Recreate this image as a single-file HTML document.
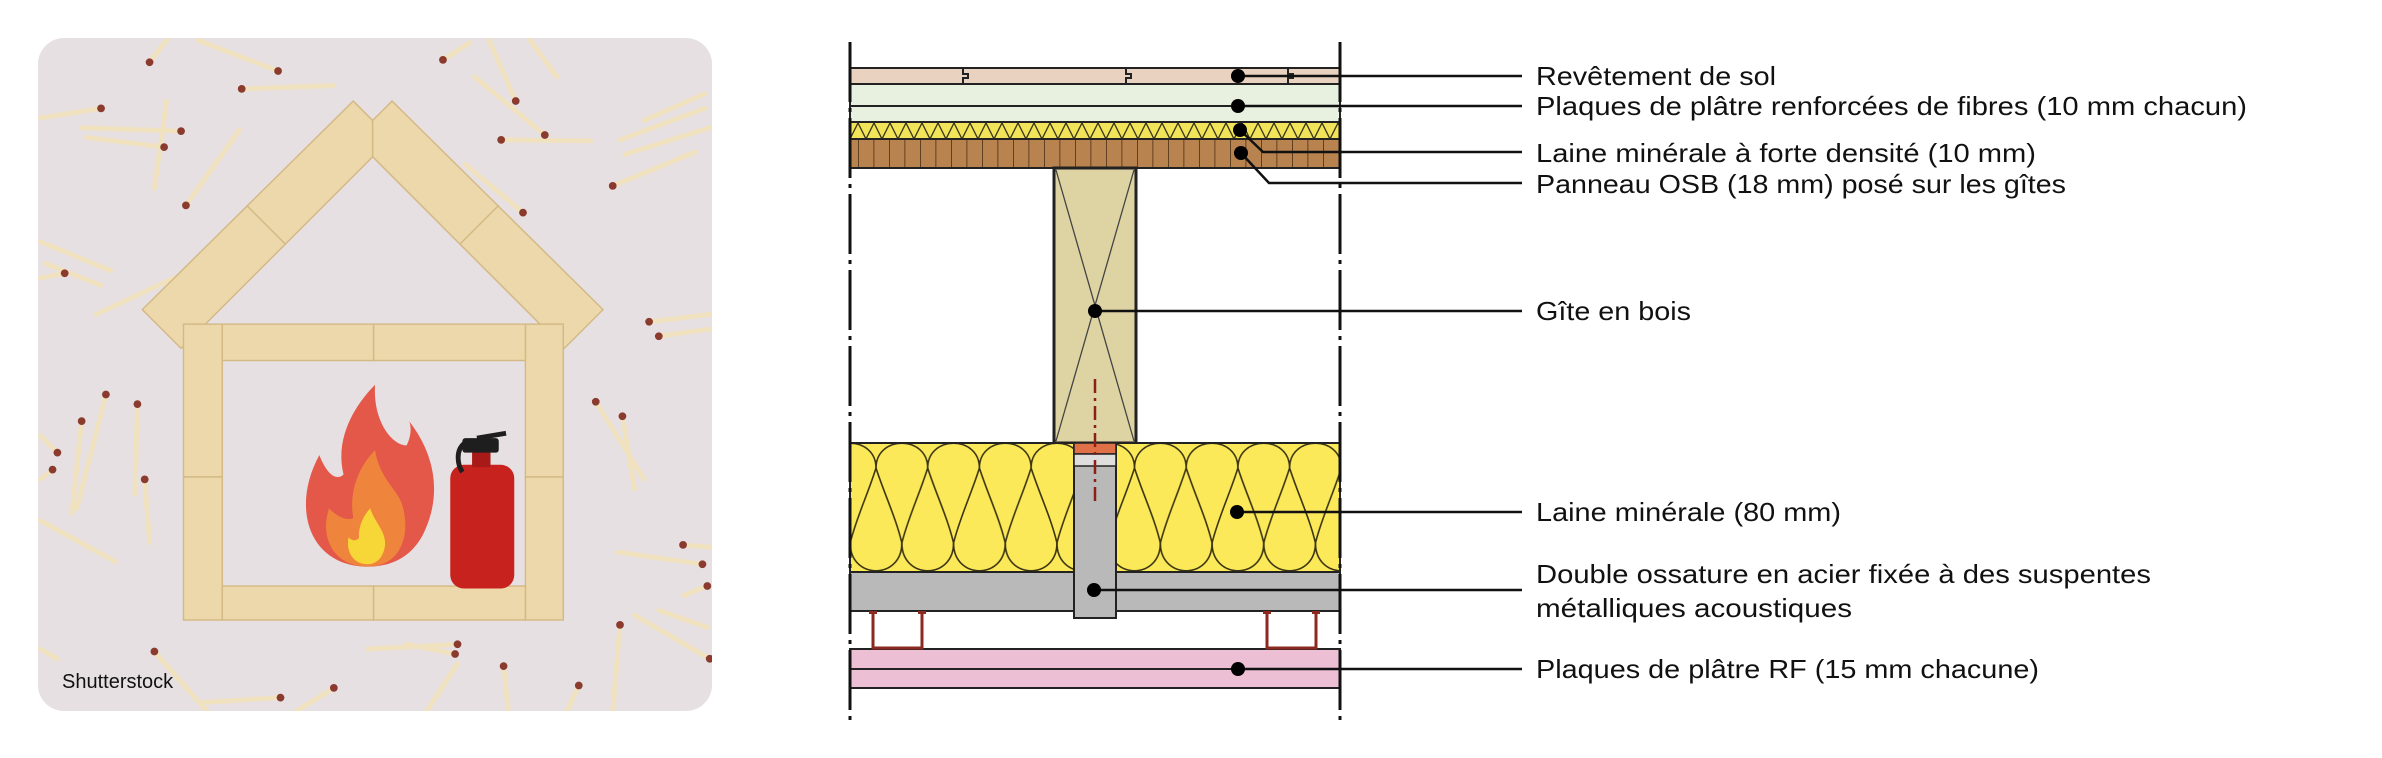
<!DOCTYPE html>
<html><head><meta charset="utf-8"><style>
html,body{margin:0;padding:0;background:#fff;}
svg{display:block;}
text{font-family:"Liberation Sans",sans-serif;}
</style></head><body>
<svg width="2382" height="758" viewBox="0 0 2382 758" xmlns="http://www.w3.org/2000/svg">
<defs>
<clipPath id="ph"><rect x="38" y="38" width="674" height="673" rx="26"/></clipPath>
<pattern id="ins" patternUnits="userSpaceOnUse" x="876" y="443" width="51.7" height="129">
<g fill="none" stroke="#3a3410" stroke-width="1.6">
<path d="M0,25 C0,-8 51.7,-8 51.7,25"/>
<path d="M-25.85,100 C-25.85,137 25.85,137 25.85,100"/>
<path d="M25.85,100 C25.85,137 77.55,137 77.55,100"/>
<path d="M0,25 C8,50 20,75 25.85,100 M51.7,25 C44,50 32,75 25.85,100 M0,25 C-8,50 -20,75 -25.85,100 M51.7,25 C60,50 72,75 77.55,100"/>
</g></pattern>
<pattern id="zig" patternUnits="userSpaceOnUse" x="850" y="122" width="16" height="17">
<path d="M0,17 L8,1 L16,17" fill="none" stroke="#3a3410" stroke-width="1.3"/>
</pattern>
<pattern id="osb" patternUnits="userSpaceOnUse" x="858" y="139" width="15.5" height="29">
<line x1="0" y1="0" x2="0" y2="29" stroke="#4a2e14" stroke-width="1.6"/>
</pattern>
</defs>

<!-- PHOTO -->
<g clip-path="url(#ph)">
<rect x="38" y="38" width="674" height="673" fill="#e7e0e3"/>
<g transform="translate(38,38) scale(0.485) translate(-80,-80)">
<g stroke="#f1e2bf" stroke-width="10" stroke-linecap="round">
<line x1="310" y1="130" x2="345" y2="85"/><line x1="575" y1="148" x2="410" y2="85"/>
<line x1="500" y1="185" x2="690" y2="178"/><line x1="210" y1="225" x2="85" y2="245"/>
<line x1="375" y1="272" x2="170" y2="265"/><line x1="345" y1="210" x2="320" y2="390"/>
<line x1="340" y1="305" x2="180" y2="285"/><line x1="385" y1="425" x2="495" y2="270"/>
<line x1="915" y1="125" x2="970" y2="90"/><line x1="1065" y1="210" x2="1010" y2="85"/>
<line x1="1150" y1="160" x2="1095" y2="85"/><line x1="1125" y1="280" x2="980" y2="160"/>
<line x1="1035" y1="290" x2="1220" y2="292"/><line x1="1455" y1="195" x2="1330" y2="250"/>
<line x1="1455" y1="225" x2="1280" y2="290"/><line x1="1465" y1="265" x2="1290" y2="320"/>
<line x1="1265" y1="385" x2="1435" y2="315"/><line x1="1080" y1="440" x2="960" y2="340"/>
<line x1="85" y1="500" x2="230" y2="560"/><line x1="95" y1="545" x2="210" y2="590"/>
<line x1="135" y1="565" x2="85" y2="575"/><line x1="360" y1="575" x2="200" y2="650"/>
<line x1="1340" y1="665" x2="1465" y2="650"/><line x1="1360" y1="695" x2="1465" y2="680"/>
<line x1="1230" y1="830" x2="1330" y2="990"/><line x1="1285" y1="860" x2="1310" y2="1010"/>
<line x1="220" y1="815" x2="160" y2="1050"/><line x1="285" y1="835" x2="280" y2="1020"/>
<line x1="170" y1="870" x2="150" y2="1060"/><line x1="300" y1="990" x2="310" y2="1120"/>
<line x1="120" y1="935" x2="85" y2="900"/><line x1="110" y1="970" x2="85" y2="990"/>
<line x1="85" y1="1075" x2="240" y2="1160"/><line x1="1410" y1="1125" x2="1465" y2="1130"/>
<line x1="1450" y1="1165" x2="1275" y2="1140"/><line x1="1460" y1="1210" x2="1410" y2="1230"/>
<line x1="1465" y1="1360" x2="1310" y2="1270"/><line x1="1460" y1="1295" x2="1360" y2="1260"/>
<line x1="1280" y1="1290" x2="1265" y2="1470"/><line x1="945" y1="1330" x2="760" y2="1340"/>
<line x1="940" y1="1350" x2="840" y2="1330"/><line x1="945" y1="1370" x2="880" y2="1470"/>
<line x1="1040" y1="1375" x2="1050" y2="1470"/><line x1="690" y1="1420" x2="610" y2="1470"/>
<line x1="580" y1="1440" x2="420" y2="1450"/><line x1="320" y1="1345" x2="430" y2="1470"/>
<line x1="120" y1="1360" x2="85" y2="1340"/><line x1="1195" y1="1415" x2="1170" y2="1470"/>
</g>
<g fill="#8a3b2e">
<circle cx="310" cy="130" r="8"/><circle cx="575" cy="148" r="8"/><circle cx="500" cy="185" r="8"/>
<circle cx="210" cy="225" r="8"/><circle cx="375" cy="272" r="8"/><circle cx="340" cy="305" r="8"/>
<circle cx="385" cy="425" r="8"/><circle cx="915" cy="125" r="8"/><circle cx="1065" cy="210" r="8"/>
<circle cx="1125" cy="280" r="8"/><circle cx="1035" cy="290" r="8"/><circle cx="1265" cy="385" r="8"/>
<circle cx="1080" cy="440" r="8"/><circle cx="135" cy="565" r="8"/><circle cx="1340" cy="665" r="8"/>
<circle cx="1360" cy="695" r="8"/><circle cx="1230" cy="830" r="8"/><circle cx="1285" cy="860" r="8"/>
<circle cx="220" cy="815" r="8"/><circle cx="285" cy="835" r="8"/><circle cx="170" cy="870" r="8"/>
<circle cx="120" cy="935" r="8"/><circle cx="110" cy="970" r="8"/><circle cx="300" cy="990" r="8"/>
<circle cx="1410" cy="1125" r="8"/><circle cx="1450" cy="1165" r="8"/><circle cx="1460" cy="1210" r="8"/>
<circle cx="1465" cy="1360" r="8"/><circle cx="945" cy="1330" r="8"/><circle cx="940" cy="1350" r="8"/>
<circle cx="690" cy="1420" r="8"/><circle cx="580" cy="1440" r="8"/><circle cx="320" cy="1345" r="8"/>
<circle cx="1195" cy="1415" r="8"/><circle cx="1040" cy="1375" r="8"/><circle cx="1280" cy="1290" r="8"/>
</g>
<!-- house -->
<g fill="#ecd8aa" stroke="#d4b985" stroke-width="3">
<polygon points="730,210 770,250 770,325 375,720 295,640"/>
<polygon points="810,210 770,250 770,325 1165,720 1245,640"/>
<line x1="510" y1="425" x2="590" y2="505"/>
<line x1="1030" y1="425" x2="950" y2="505"/>
<rect x="380" y="670" width="80" height="315"/><rect x="380" y="985" width="80" height="295"/>
<rect x="1085" y="670" width="78" height="315"/><rect x="1085" y="985" width="78" height="295"/>
<rect x="460" y="670" width="312" height="75"/><rect x="772" y="670" width="313" height="75"/>
<rect x="460" y="1210" width="312" height="70"/><rect x="772" y="1210" width="313" height="70"/>
</g>
<path d="M760,1170 C640,1170 600,1050 660,940 C680,990 700,990 710,980 C690,900 740,830 775,795 C770,870 810,920 840,920 C850,900 850,880 845,870 C900,940 910,1020 880,1090 C860,1140 820,1170 760,1170Z" fill="#e4584a"/>
<path d="M760,1170 C690,1170 660,1110 680,1050 C700,1070 720,1075 730,1070 C720,1010 745,960 775,930 C785,990 820,1010 830,1040 C850,1100 830,1170 760,1170Z" fill="#ef853c"/>
<path d="M760,1165 C730,1165 715,1140 720,1110 C730,1120 740,1115 742,1110 C740,1090 750,1065 765,1050 C775,1080 800,1100 795,1130 C790,1155 775,1165 760,1165Z" fill="#f7d637"/>
<rect x="930" y="960" width="132" height="255" rx="28" fill="#c8221e"/>
<rect x="975" y="930" width="38" height="35" fill="#a81a18"/>
<rect x="955" y="905" width="75" height="30" rx="6" fill="#1e1e1e"/>
<path d="M985,905 L1045,895 M960,915 C940,930 945,960 955,975" stroke="#1e1e1e" stroke-width="10" fill="none"/>
</g>
<text x="62" y="688" font-size="20" fill="#111">Shutterstock</text>
</g>

<!-- DIAGRAM -->
<rect x="850" y="68" width="490" height="16" fill="#e9d3c0" stroke="#222" stroke-width="2"/>
<g fill="none" stroke="#222" stroke-width="2">
<path d="M963,68 V74 H968 V78 H963 V84"/>
<path d="M1126,68 V74 H1131 V78 H1126 V84"/>
<path d="M1288,68 V74 H1293 V78 H1288 V84"/>
</g>
<rect x="850" y="84" width="490" height="38" fill="#e8f0e0" stroke="#222" stroke-width="2"/>
<line x1="850" y1="106" x2="1238" y2="106" stroke="#222" stroke-width="2"/>
<rect x="850" y="122" width="490" height="17" fill="#f1e35a"/>
<rect x="850" y="122" width="490" height="17" fill="url(#zig)" stroke="#222" stroke-width="2"/>
<rect x="850" y="139" width="490" height="29" fill="#b9834f"/>
<rect x="850" y="139" width="490" height="29" fill="url(#osb)" stroke="#222" stroke-width="2"/>
<rect x="1054" y="168" width="82" height="275" fill="#ddd3a3" stroke="#222" stroke-width="3"/>
<path d="M1056,170 L1134,441 M1134,170 L1056,441" stroke="#444" stroke-width="1.3"/>
<rect x="850" y="443" width="490" height="129" fill="#fbe95a"/>
<rect x="850" y="443" width="490" height="129" fill="url(#ins)" stroke="#222" stroke-width="2"/>
<rect x="850" y="572" width="490" height="39" fill="#b9b9b9" stroke="#222" stroke-width="2"/>
<rect x="1074" y="443" width="42" height="175" fill="#b9b9b9" stroke="#222" stroke-width="2"/>
<rect x="1074" y="443" width="42" height="11" fill="#e07048" stroke="#222" stroke-width="1.5"/>
<rect x="1074" y="454" width="42" height="12" fill="#dedede" stroke="#222" stroke-width="1.5"/>
<line x1="1095" y1="379" x2="1095" y2="501" stroke="#8c2018" stroke-width="2.5" stroke-dasharray="14 5 3 5"/>
<rect x="850" y="649" width="490" height="39" fill="#ecbfd4" stroke="#222" stroke-width="2"/>
<line x1="850" y1="669" x2="1238" y2="669" stroke="#222" stroke-width="2"/>
<path d="M873,612 V648 H922 V612 M869,612.5 H877 M918,612.5 H926" fill="none" stroke="#8c2a22" stroke-width="3"/>
<path d="M1267,612 V648 H1316 V612 M1263,612.5 H1271 M1312,612.5 H1320" fill="none" stroke="#8c2a22" stroke-width="3"/>
<line x1="850" y1="42" x2="850" y2="722" stroke="#111" stroke-width="3" stroke-dasharray="60 6 4 6"/>
<line x1="1340" y1="42" x2="1340" y2="722" stroke="#111" stroke-width="3" stroke-dasharray="60 6 4 6"/>

<g stroke="#111" stroke-width="2.5" fill="none">
<line x1="1238" y1="76" x2="1522" y2="76"/>
<line x1="1238" y1="106" x2="1522" y2="106"/>
<polyline points="1240,130 1263,152 1522,152"/>
<polyline points="1241,153 1269,183 1522,183"/>
<line x1="1095" y1="311" x2="1522" y2="311"/>
<line x1="1237" y1="512" x2="1522" y2="512"/>
<line x1="1094" y1="590" x2="1522" y2="590"/>
<line x1="1238" y1="669" x2="1522" y2="669"/>
</g>
<g fill="#000">
<circle cx="1238" cy="76" r="7"/><circle cx="1238" cy="106" r="7"/>
<circle cx="1240" cy="130" r="7"/><circle cx="1241" cy="153" r="7"/>
<circle cx="1095" cy="311" r="7"/><circle cx="1237" cy="512" r="7"/>
<circle cx="1094" cy="590" r="7"/><circle cx="1238" cy="669" r="7"/>
</g>
<g font-size="26" fill="#111">
<text x="1536" y="85" textLength="240" lengthAdjust="spacingAndGlyphs">Revêtement de sol</text>
<text x="1536" y="115" textLength="711" lengthAdjust="spacingAndGlyphs">Plaques de plâtre renforcées de fibres (10 mm chacun)</text>
<text x="1536" y="162" textLength="500" lengthAdjust="spacingAndGlyphs">Laine minérale à forte densité (10 mm)</text>
<text x="1536" y="193" textLength="530" lengthAdjust="spacingAndGlyphs">Panneau OSB (18 mm) posé sur les gîtes</text>
<text x="1536" y="320" textLength="155" lengthAdjust="spacingAndGlyphs">Gîte en bois</text>
<text x="1536" y="521" textLength="305" lengthAdjust="spacingAndGlyphs">Laine minérale (80 mm)</text>
<text x="1536" y="583" textLength="615" lengthAdjust="spacingAndGlyphs">Double ossature en acier fixée à des suspentes</text>
<text x="1536" y="617" textLength="316" lengthAdjust="spacingAndGlyphs">métalliques acoustiques</text>
<text x="1536" y="678" textLength="503" lengthAdjust="spacingAndGlyphs">Plaques de plâtre RF (15 mm chacune)</text>
</g>
</svg>
</body></html>
